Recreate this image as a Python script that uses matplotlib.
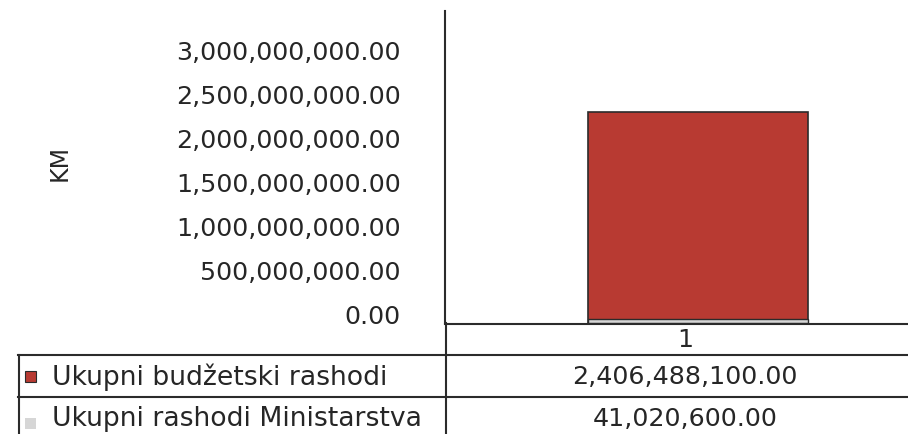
import matplotlib
matplotlib.use("Agg")
import matplotlib.pyplot as plt
from matplotlib.lines import Line2D
from matplotlib.patches import Rectangle
from matplotlib.ticker import FuncFormatter

categories = ["1"]
series_names = ["Ukupni budžetski rashodi", "Ukupni rashodi Ministarstva"]
budzet = [2406488100.00]
ministarstvo = [41020600.00]
yticks = [0, 500e6, 1000e6, 1500e6, 2000e6, 2500e6, 3000e6]
colors = ["#B83A32", "#D6D6D6"]
edge = "#2b2b2b"
txt = "#262626"

W, H = 908, 435
fig = plt.figure(figsize=(W / 100, H / 100), dpi=100)
plt.rcParams['font.family'] = ['DejaVu Sans']
FS_NUM = 18.3
FS_TXT = 19.2

def fx(px):
    return px / W

def fy(py):
    return 1 - py / H

ax_left, ax_right = 445, 926
ax_top, ax_bot = 12, 324
ax = fig.add_axes([fx(ax_left), fy(ax_bot), fx(ax_right - ax_left), (ax_bot - ax_top) / H])
ax.set_ylim(0, 3.55e9)
ax.set_xlim(-0.5, 0.5)

def px2x(px):
    return -0.5 + (px - ax_left) / (ax_right - ax_left)

bar_c = px2x(698)
bar_w = px2x(808) - px2x(588)
xs = [bar_c]
ax.bar(xs, budzet, width=bar_w, color=colors[0], edgecolor=edge, linewidth=1.2, zorder=2)
ax.bar(xs, ministarstvo, width=bar_w, color=colors[1], edgecolor=edge, linewidth=1.0, zorder=3)

for s in ["top", "right", "bottom"]:
    ax.spines[s].set_visible(False)
ax.spines["left"].set_color(edge)
ax.spines["left"].set_linewidth(1.5)
ax.set_xticks([])
ax.set_yticks(yticks)
ax.yaxis.set_major_formatter(FuncFormatter(lambda v, p: f"{v:,.2f}"))
ax.tick_params(axis="y", length=0, pad=32, labelsize=FS_NUM, labelcolor=txt)
for lab in ax.get_yticklabels():
    lab.set_verticalalignment("baseline")
ax.set_ylabel("KM", fontsize=17, color=txt)
ax.yaxis.set_label_coords((72 - ax_left) / (ax_right - ax_left), (ax_bot - 163) / (ax_bot - ax_top))

# data table
lw = 1.5
def hline(y, x0, x1):
    fig.add_artist(Line2D([fx(x0), fx(x1)], [fy(y), fy(y)], color=edge, lw=lw))
def vline(x, y0, y1):
    fig.add_artist(Line2D([fx(x), fx(x)], [fy(y0), fy(y1)], color=edge, lw=lw))

hline(324.5, 445, 908)
hline(356, 18, 908)
hline(398, 18, 908)
vline(445.5, 324, 436)
vline(18.5, 356, 436)

col_c = 685
fig.text(fx(col_c), fy(340), categories[0], ha="center", va="center", fontsize=FS_NUM, color=txt)
rows = [budzet, ministarstvo]
row_y = [377, 419]
mark_y = [377, 424]
for name, vals, ry, my, c in zip(series_names, rows, row_y, mark_y, colors):
    fig.text(fx(52), fy(ry), name, ha="left", va="center", fontsize=FS_TXT, color=txt)
    fig.text(fx(col_c), fy(ry), f"{vals[0]:,.2f}", ha="center", va="center", fontsize=FS_NUM, color=txt)
    fig.add_artist(Rectangle((fx(25), fy(my + 5.5)), fx(10.5), 10.5 / H, facecolor=c,
                             edgecolor=edge if c == colors[0] else "none", lw=0.8))

fig.savefig("out.png", dpi=100)
